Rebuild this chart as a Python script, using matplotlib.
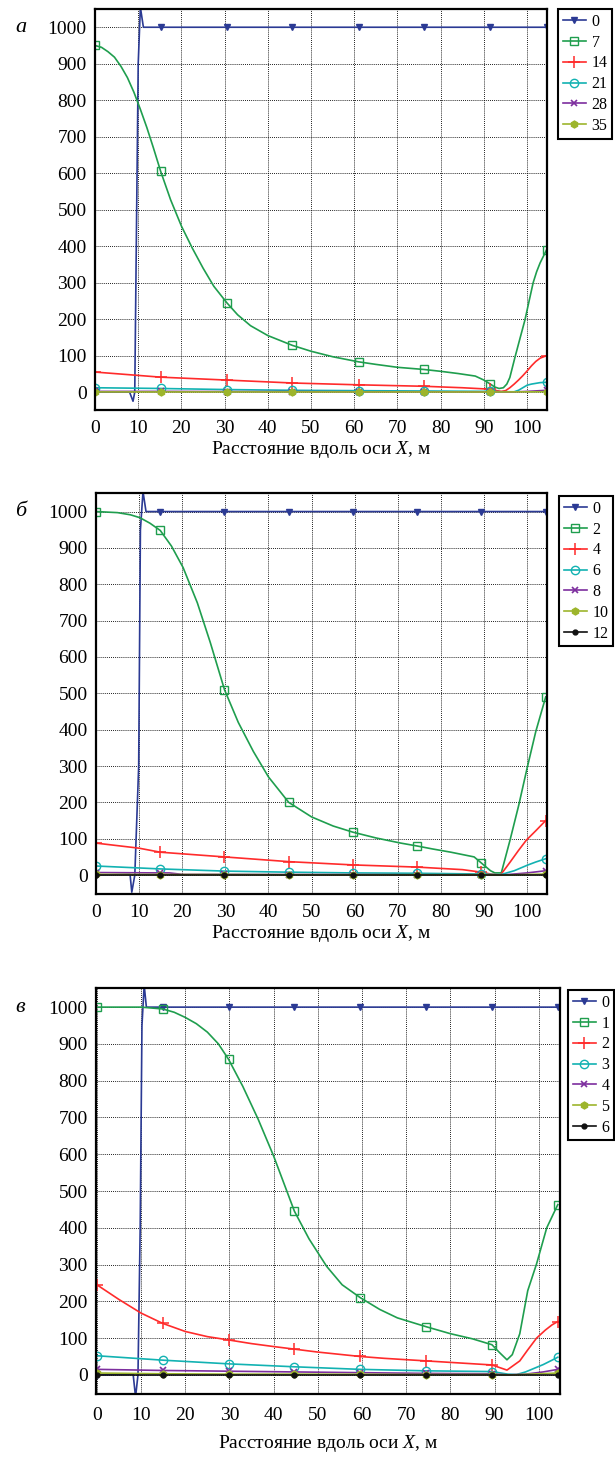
import matplotlib
matplotlib.use("Agg")
import matplotlib.pyplot as plt

plt.rcParams['font.family'] = ['Liberation Serif', 'DejaVu Serif']
plt.rcParams['mathtext.fontset'] = 'custom'
plt.rcParams['mathtext.rm'] = 'Liberation Serif'
plt.rcParams['mathtext.it'] = 'Liberation Serif:italic'

# ---------------- data: panel a (time labels 0,7,14,21,28,35) ----------------
labels_a = ["0", "7", "14", "21", "28", "35"]
marks_a = [0, 15.2, 30.5, 45.7, 61, 76.2, 91.5, 104.5]

a0_x = [0, 8.0, 8.8, 9.2, 10.0, 10.5, 11.2, 15.2, 30.5, 45.7, 61, 76.2, 91.5, 104.5]
a0_y = [0, 0, -25, 0, 900, 1055, 1000, 1000, 1000, 1000, 1000, 1000, 1000, 1000]

a1_x = [0, 1.5, 3, 4.5, 6, 7.5, 9, 10.5, 12, 13.5, 15.2, 17.5, 20, 22.5, 25, 27.5, 30.5, 33, 36, 40,
        45.7, 50, 55, 61, 65, 70, 76.2, 80, 84, 88, 90, 91.5, 92.5, 93.5, 94.5, 95.3,
        96, 97.2, 98.3, 99.5, 100.5, 101.4, 102.2, 103, 104.5]
a1_y = [950, 945, 933, 918, 893, 862, 822, 775, 725, 670, 605, 527, 455, 395, 340, 290, 245, 212, 182, 155,
        128, 112, 97, 83, 76, 68, 62, 57, 51, 44, 33, 22, 14, 10, 12, 22,
        40, 96, 145, 198, 252, 300, 330, 354, 390]

a2_x = [0, 15.2, 30.5, 45.7, 61, 76.2, 85, 91.5, 93, 94, 95, 96, 97, 98, 99, 100,
        101, 102, 103, 104.5]
a2_y = [55, 41, 33, 25, 20, 16, 12, 8, 4, 2, 4, 12, 22, 33, 45, 58, 72, 84, 93, 100]

a3_x = [0, 15.2, 30.5, 45.7, 61, 76.2, 91.5, 94, 97, 98, 99, 100, 101, 102, 103, 104.5]
a3_y = [12, 10, 7, 5, 4, 3, 2, 1, 1, 5, 12, 19, 22, 24, 26, 27]

a4_x = [0, 15.2, 30.5, 45.7, 61, 76.2, 91.5, 96, 100, 104.5]
a4_y = [2, 2, 1.5, 1.5, 1, 1, 0.5, 0, 2, 5]

a5_x = [0, 15.2, 30.5, 45.7, 61, 76.2, 91.5, 104.5]
a5_y = [0.5, 0.5, 0.5, 0.5, 0.5, 0.5, 0.3, 1]

# ---------------- data: panel b (time labels 0..12) ----------------
labels_b = ["0", "2", "4", "6", "8", "10", "12"]
marks_b = [0, 14.9, 29.8, 44.7, 59.6, 74.5, 89.4, 104.3]

b0_x = [0, 7.9, 8.3, 9.0, 9.9, 10.3, 10.9, 11.6, 14.9, 29.8, 44.7, 59.6, 74.5, 89.4, 104.3]
b0_y = [0, 2, -47, 0, 300, 950, 1055, 1000, 1000, 1000, 1000, 1000, 1000, 1000, 1000]

b1_x = [0, 5, 8, 10.2, 12.5, 14.9, 17.5, 20.2, 23.5, 26.5, 29.8, 33, 36.5, 40, 44.7, 50, 55,
        59.6, 65, 70.7, 74.5, 78, 82.3, 87.7, 89.4, 90.5, 91.5, 92.5, 94, 96, 98,
        100, 102, 104.3]
b1_y = [1000, 997, 991, 983, 968, 948, 905, 846, 749, 640, 510, 420, 340, 270, 200, 160, 135,
        118, 102, 88, 80, 72, 63, 50, 33, 22, 12, 6, 6, 95, 190, 295, 395, 490]

b2_x = [0, 10, 14.9, 29.8, 44.7, 59.6, 74.5, 85, 89.4, 91.5, 93.8, 96, 98, 99.8, 102, 104.3]
b2_y = [88, 74, 63, 50, 37, 28, 22, 15, 8, 3, 0, 35, 68, 96, 122, 150]

b3_x = [0, 14.9, 29.8, 44.7, 59.6, 74.5, 89.4, 93.8, 97, 100.2, 102, 104.3]
b3_y = [25, 17, 11, 8, 6, 5, 3, 1, 12, 28, 36, 45]

b4_x = [0, 14.9, 17, 20, 29.8, 44.7, 59.6, 74.5, 89.4, 94, 100, 104.3]
b4_y = [7, 6, 6, 2, 2, 1.5, 1.5, 1, 1, 0, 6, 12]

b5_x = [0, 14.9, 29.8, 44.7, 59.6, 74.5, 89.4, 94, 104.3]
b5_y = [2, 1.5, 1.5, 1, 1, 1, 1, 0, 3]

b6_x = [0, 14.9, 29.8, 44.7, 59.6, 74.5, 89.4, 104.3]
b6_y = [0, 0, 0, 0, 0, 0, 0, 0]

# ---------------- data: panel c (time labels 0..6) ----------------
labels_c = ["0", "1", "2", "3", "4", "5", "6"]
marks_c = [0, 14.9, 29.8, 44.7, 59.6, 74.5, 89.4, 104.3]

c0_x = [0, 8.2, 8.75, 9.3, 9.8, 10.2, 10.7, 11.2, 14.9, 29.8, 44.7, 59.6, 74.5, 89.4, 104.3]
c0_y = [0, 2, -60, 0, 400, 950, 1060, 1000, 1000, 1000, 1000, 1000, 1000, 1000, 1000]

c1_x = [0, 5, 10, 14.9, 17.5, 20, 22.5, 25, 27.5, 29.8, 33, 36.5, 40, 44.7, 48, 52, 55.5, 59.6, 64,
        68, 74.5, 80, 85, 89.4, 91, 92.8, 94, 95.7, 97.5, 99.5, 101.8, 104.3]
c1_y = [1000, 1000, 1000, 995, 986, 972, 955, 932, 900, 858, 785, 695, 595, 445, 370, 295, 245, 210,
        178, 155, 131, 112, 98, 82, 62, 41, 55, 112, 229, 302, 400, 463]

c2_x = [0, 5, 10, 14.9, 20, 25, 29.8, 35, 40, 44.7, 50, 59.6, 65, 74.5, 89.4, 92.8,
        95.7, 97.5, 99.5, 101.5, 103, 104.3]
c2_y = [245, 205, 168, 140, 118, 104, 95, 85, 77, 70, 62, 50, 45, 38, 27, 13,
        38, 68, 100, 122, 136, 145]

c3_x = [0, 14.9, 29.8, 44.7, 59.6, 74.5, 89.4, 93, 95, 97, 99, 101, 103, 104.3]
c3_y = [52, 40, 30, 22, 15, 11, 9, 2, 1, 8, 18, 28, 40, 48]

c4_x = [0, 14.9, 29.8, 44.7, 59.6, 74.5, 89.4, 93, 97, 101, 104.3]
c4_y = [15, 12, 10, 8, 6, 4, 3, 0, 2, 8, 15]

c5_x = [0, 14.9, 29.8, 44.7, 59.6, 74.5, 89.4, 94, 104.3]
c5_y = [5, 3, 2, 2, 1.5, 1, 1, 0, 5]

c6_x = [0, 14.9, 29.8, 44.7, 59.6, 74.5, 89.4, 104.3]
c6_y = [0, 0, 0, 0, 0, 0, 0, 0]

# ---------------- styles ----------------
styles = [
    dict(color='#2b3a94', marker='v', ms=5, mfc='#2b3a94'),
    dict(color='#1f9e4e', marker='s', ms=6, mfc='none'),
    dict(color='#ff2b2b', marker='+', ms=8, mew=1.1),
    dict(color='#12b2b2', marker='o', ms=6, mfc='none'),
    dict(color='#7d2e9e', marker='x', ms=5, mew=1.2),
    dict(color='#9db52c', marker='h', ms=5, mfc='#9db52c'),
    dict(color='#111111', marker='o', ms=3.5, mfc='#111111'),
]

W, H = 615, 1464
fig = plt.figure(figsize=(W / 100, H / 100), dpi=100)


def frac(left, top, right, bottom):
    return [left / W, 1 - bottom / H, (right - left) / W, (bottom - top) / H]


panels = [
    dict(rect=frac(95, 9, 547, 410), xlim=(0, 104.6), ylim=(-49, 1050), tag='а',
         series=[(a0_x, a0_y), (a1_x, a1_y), (a2_x, a2_y), (a3_x, a3_y), (a4_x, a4_y), (a5_x, a5_y)],
         labels=labels_a, marks=marks_a, leg=(558, 9), xpad=7, lpad=2),
    dict(rect=frac(96, 493, 547, 894), xlim=(0, 104.6), ylim=(-52, 1051), tag='б',
         series=[(b0_x, b0_y), (b1_x, b1_y), (b2_x, b2_y), (b3_x, b3_y), (b4_x, b4_y), (b5_x, b5_y), (b6_x, b6_y)],
         labels=labels_b, marks=marks_b, leg=(559, 496), xpad=7, lpad=2),
    dict(rect=frac(96, 988, 560, 1394), xlim=(-0.2, 104.8), ylim=(-52, 1052), tag='в',
         series=[(c0_x, c0_y), (c1_x, c1_y), (c2_x, c2_y), (c3_x, c3_y), (c4_x, c4_y), (c5_x, c5_y), (c6_x, c6_y)],
         labels=labels_c, marks=marks_c, leg=(568, 990), xpad=9, lpad=7),
]

for p in panels:
    ax = fig.add_axes(p['rect'])
    handles = []
    for (xs, ys), lab, st in zip(p['series'], p['labels'], styles):
        me = [i for i, xv in enumerate(xs) if any(abs(xv - m) < 1e-6 for m in p['marks'])]
        kw = dict(st)
        mfc = kw.pop('mfc', kw['color'])
        mew = kw.pop('mew', 1.0)
        h, = ax.plot(xs, ys, color=kw['color'], lw=1.2, marker=kw['marker'], ms=kw['ms'],
                     mfc=mfc, mec=kw['color'], mew=mew, markevery=me, label=lab,
                     clip_on=True)
        handles.append(h)
    ax.set_xlim(*p['xlim'])
    ax.set_ylim(*p['ylim'])
    ax.set_xticks(range(0, 101, 10))
    ax.set_yticks(range(0, 1001, 100))
    ax.grid(True, color='black', linestyle=(0, (1, 1.3)), linewidth=0.65)
    ax.tick_params(direction='in', length=0, labelsize=14, pad=6)
    ax.tick_params(axis='x', pad=p['xpad'])
    for s in ax.spines.values():
        s.set_linewidth(1.6)
        s.set_color('black')
    ax.set_xlabel('Расстояние вдоль оси $X$, м', fontsize=14, labelpad=p['lpad'])
    y1000 = p['rect'][1] + p['rect'][3] * (1000 - p['ylim'][0]) / (p['ylim'][1] - p['ylim'][0])
    fig.text(15 / W, y1000, p['tag'], fontsize=16, style='italic', va='center', ha='left')
    lx, ly = p['leg']
    leg = fig.legend(handles=handles, loc='upper left', bbox_to_anchor=(lx / W, 1 - ly / H),
                     fontsize=11.5, frameon=True, fancybox=False, edgecolor='black',
                     framealpha=1, borderpad=0.3, labelspacing=0.3, handlelength=1.45,
                     handletextpad=0.35, borderaxespad=0, numpoints=1)
    leg.get_frame().set_linewidth(1.5)

fig.savefig('out.png', dpi=100)
